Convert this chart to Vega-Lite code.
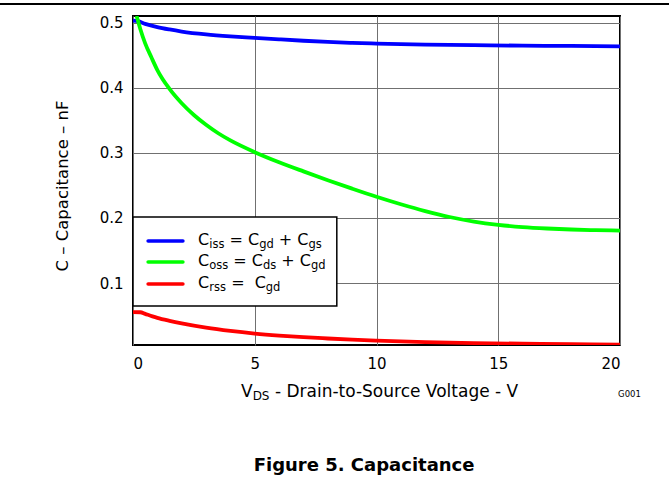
{
  "$schema": "https://vega.github.io/schema/vega-lite/v6.json",
  "width": 487,
  "height": 329,
  "autosize": {"type": "none"},
  "padding": {"left": 133, "top": 16, "right": 49, "bottom": 132},
  "background": "white",
  "config": {
    "view": {"stroke": "black", "strokeWidth": 2},
    "axis": {
      "grid": true,
      "gridColor": "#707070",
      "gridWidth": 1,
      "gridOpacity": 1,
      "domain": false,
      "ticks": false,
      "tickSize": 0,
      "labelFont": "DejaVu Sans",
      "labelFontSize": 15,
      "labelColor": "black",
      "title": null
    },
    "text": {"font": "DejaVu Sans", "fontSize": 16, "align": "left", "baseline": "alphabetic", "color": "black"}
  },
  "layer": [
    {
      "data": {
        "values": [
          {"vds": 0, "c": 0.503, "series": "Ciss"},
          {"vds": 0.2, "c": 0.502, "series": "Ciss"},
          {"vds": 0.5, "c": 0.498, "series": "Ciss"},
          {"vds": 1, "c": 0.493, "series": "Ciss"},
          {"vds": 1.5, "c": 0.4893, "series": "Ciss"},
          {"vds": 2, "c": 0.4862, "series": "Ciss"},
          {"vds": 3, "c": 0.4818, "series": "Ciss"},
          {"vds": 4, "c": 0.4788, "series": "Ciss"},
          {"vds": 5, "c": 0.4765, "series": "Ciss"},
          {"vds": 6, "c": 0.4742, "series": "Ciss"},
          {"vds": 7, "c": 0.472, "series": "Ciss"},
          {"vds": 8, "c": 0.4702, "series": "Ciss"},
          {"vds": 9, "c": 0.4688, "series": "Ciss"},
          {"vds": 10, "c": 0.4677, "series": "Ciss"},
          {"vds": 12, "c": 0.4662, "series": "Ciss"},
          {"vds": 14, "c": 0.4652, "series": "Ciss"},
          {"vds": 16, "c": 0.4645, "series": "Ciss"},
          {"vds": 18, "c": 0.464, "series": "Ciss"},
          {"vds": 20, "c": 0.4635, "series": "Ciss"},
          {"vds": 0.15, "c": 0.51, "series": "Coss"},
          {"vds": 0.3, "c": 0.49, "series": "Coss"},
          {"vds": 0.5, "c": 0.468, "series": "Coss"},
          {"vds": 0.75, "c": 0.447, "series": "Coss"},
          {"vds": 1, "c": 0.427, "series": "Coss"},
          {"vds": 1.5, "c": 0.398, "series": "Coss"},
          {"vds": 2, "c": 0.376, "series": "Coss"},
          {"vds": 2.5, "c": 0.358, "series": "Coss"},
          {"vds": 3, "c": 0.343, "series": "Coss"},
          {"vds": 3.5, "c": 0.33, "series": "Coss"},
          {"vds": 4, "c": 0.319, "series": "Coss"},
          {"vds": 5, "c": 0.301, "series": "Coss"},
          {"vds": 6, "c": 0.2855, "series": "Coss"},
          {"vds": 7, "c": 0.2715, "series": "Coss"},
          {"vds": 8, "c": 0.258, "series": "Coss"},
          {"vds": 9, "c": 0.245, "series": "Coss"},
          {"vds": 10, "c": 0.2325, "series": "Coss"},
          {"vds": 11, "c": 0.221, "series": "Coss"},
          {"vds": 12, "c": 0.2105, "series": "Coss"},
          {"vds": 13, "c": 0.2015, "series": "Coss"},
          {"vds": 14, "c": 0.1945, "series": "Coss"},
          {"vds": 15, "c": 0.1895, "series": "Coss"},
          {"vds": 16, "c": 0.186, "series": "Coss"},
          {"vds": 17, "c": 0.1838, "series": "Coss"},
          {"vds": 18, "c": 0.1823, "series": "Coss"},
          {"vds": 19, "c": 0.1813, "series": "Coss"},
          {"vds": 20, "c": 0.1806, "series": "Coss"},
          {"vds": 0, "c": 0.0555, "series": "Crss"},
          {"vds": 0.3, "c": 0.0553, "series": "Crss"},
          {"vds": 0.5, "c": 0.0528, "series": "Crss"},
          {"vds": 0.8, "c": 0.049, "series": "Crss"},
          {"vds": 1, "c": 0.0467, "series": "Crss"},
          {"vds": 1.5, "c": 0.0421, "series": "Crss"},
          {"vds": 2, "c": 0.0381, "series": "Crss"},
          {"vds": 3, "c": 0.0316, "series": "Crss"},
          {"vds": 4, "c": 0.0266, "series": "Crss"},
          {"vds": 5, "c": 0.0226, "series": "Crss"},
          {"vds": 6, "c": 0.0195, "series": "Crss"},
          {"vds": 7, "c": 0.017, "series": "Crss"},
          {"vds": 8, "c": 0.015, "series": "Crss"},
          {"vds": 9, "c": 0.0132, "series": "Crss"},
          {"vds": 10, "c": 0.0117, "series": "Crss"},
          {"vds": 12, "c": 0.0095, "series": "Crss"},
          {"vds": 14, "c": 0.008, "series": "Crss"},
          {"vds": 16, "c": 0.007, "series": "Crss"},
          {"vds": 18, "c": 0.0062, "series": "Crss"},
          {"vds": 20, "c": 0.0056, "series": "Crss"}
        ]
      },
      "mark": {"type": "line", "strokeWidth": 3.8, "interpolate": "monotone", "clip": true},
      "encoding": {
        "x": {
          "field": "vds", "type": "quantitative",
          "scale": {"domain": [0, 20], "nice": false, "zero": false},
          "axis": {"values": [0, 5, 10, 15, 20], "format": "d", "labelPadding": 11}
        },
        "y": {
          "field": "c", "type": "quantitative",
          "scale": {"domain": [0.005, 0.51], "nice": false, "zero": false},
          "axis": {"values": [0.1, 0.2, 0.3, 0.4, 0.5], "format": ".1f", "labelPadding": 10}
        },
        "color": {
          "field": "series", "type": "nominal",
          "scale": {"domain": ["Ciss", "Coss", "Crss"], "range": ["#0000ff", "#00ff00", "#ff0000"]},
          "legend": null
        },
        "detail": {"field": "series"}
      }
    },
    {
      "data": {"values": [{}]},
      "mark": {"type": "rect", "fill": "white", "stroke": "black", "strokeWidth": 1.5},
      "encoding": {
        "x": {"datum": 0, "type": "quantitative"}, "x2": {"datum": 8.37},
        "y": {"datum": 0.0648, "type": "quantitative"}, "y2": {"datum": 0.2015}
      }
    },
    {
      "data": {"values": [{}]},
      "mark": {"type": "rule", "color": "#0000ff", "strokeWidth": 3.5, "strokeCap": "round"},
      "encoding": {"x": {"datum": 0.62, "type": "quantitative"}, "x2": {"datum": 2.05}, "y": {"datum": 0.1646, "type": "quantitative"}}
    },
    {
      "data": {"values": [{}]},
      "mark": {"type": "rule", "color": "#00ff00", "strokeWidth": 3.5, "strokeCap": "round"},
      "encoding": {"x": {"datum": 0.62, "type": "quantitative"}, "x2": {"datum": 2.05}, "y": {"datum": 0.1324, "type": "quantitative"}}
    },
    {
      "data": {"values": [{}]},
      "mark": {"type": "rule", "color": "#ff0000", "strokeWidth": 3.5, "strokeCap": "round"},
      "encoding": {"x": {"datum": 0.62, "type": "quantitative"}, "x2": {"datum": 2.05}, "y": {"datum": 0.0986, "type": "quantitative"}}
    },
    {"data": {"values": [{}]}, "mark": {"type": "text"}, "encoding": {"x": {"datum": 2.67, "type": "quantitative"}, "y": {"datum": 0.1585, "type": "quantitative"}, "text": {"value": "C"}}},
    {"data": {"values": [{}]}, "mark": {"type": "text", "fontSize": 11.5}, "encoding": {"x": {"datum": 3.13, "type": "quantitative"}, "y": {"datum": 0.1539, "type": "quantitative"}, "text": {"value": "iss"}}},
    {"data": {"values": [{}]}, "mark": {"type": "text"}, "encoding": {"x": {"datum": 3.96, "type": "quantitative"}, "y": {"datum": 0.1585, "type": "quantitative"}, "text": {"value": "= C"}}},
    {"data": {"values": [{}]}, "mark": {"type": "text", "fontSize": 11.5}, "encoding": {"x": {"datum": 5.18, "type": "quantitative"}, "y": {"datum": 0.1539, "type": "quantitative"}, "text": {"value": "gd"}}},
    {"data": {"values": [{}]}, "mark": {"type": "text"}, "encoding": {"x": {"datum": 5.99, "type": "quantitative"}, "y": {"datum": 0.1585, "type": "quantitative"}, "text": {"value": "+ C"}}},
    {"data": {"values": [{}]}, "mark": {"type": "text", "fontSize": 11.5}, "encoding": {"x": {"datum": 7.21, "type": "quantitative"}, "y": {"datum": 0.1539, "type": "quantitative"}, "text": {"value": "gs"}}},
    {"data": {"values": [{}]}, "mark": {"type": "text"}, "encoding": {"x": {"datum": 2.67, "type": "quantitative"}, "y": {"datum": 0.1255, "type": "quantitative"}, "text": {"value": "C"}}},
    {"data": {"values": [{}]}, "mark": {"type": "text", "fontSize": 11.5}, "encoding": {"x": {"datum": 3.13, "type": "quantitative"}, "y": {"datum": 0.1209, "type": "quantitative"}, "text": {"value": "oss"}}},
    {"data": {"values": [{}]}, "mark": {"type": "text"}, "encoding": {"x": {"datum": 4.12, "type": "quantitative"}, "y": {"datum": 0.1255, "type": "quantitative"}, "text": {"value": "= C"}}},
    {"data": {"values": [{}]}, "mark": {"type": "text", "fontSize": 11.5}, "encoding": {"x": {"datum": 5.34, "type": "quantitative"}, "y": {"datum": 0.1209, "type": "quantitative"}, "text": {"value": "ds"}}},
    {"data": {"values": [{}]}, "mark": {"type": "text"}, "encoding": {"x": {"datum": 6.09, "type": "quantitative"}, "y": {"datum": 0.1255, "type": "quantitative"}, "text": {"value": "+ C"}}},
    {"data": {"values": [{}]}, "mark": {"type": "text", "fontSize": 11.5}, "encoding": {"x": {"datum": 7.31, "type": "quantitative"}, "y": {"datum": 0.1209, "type": "quantitative"}, "text": {"value": "gd"}}},
    {"data": {"values": [{}]}, "mark": {"type": "text"}, "encoding": {"x": {"datum": 2.67, "type": "quantitative"}, "y": {"datum": 0.0925, "type": "quantitative"}, "text": {"value": "C"}}},
    {"data": {"values": [{}]}, "mark": {"type": "text", "fontSize": 11.5}, "encoding": {"x": {"datum": 3.13, "type": "quantitative"}, "y": {"datum": 0.0879, "type": "quantitative"}, "text": {"value": "rss"}}},
    {"data": {"values": [{}]}, "mark": {"type": "text"}, "encoding": {"x": {"datum": 4.03, "type": "quantitative"}, "y": {"datum": 0.0925, "type": "quantitative"}, "text": {"value": "="}}},
    {"data": {"values": [{}]}, "mark": {"type": "text"}, "encoding": {"x": {"datum": 5.0, "type": "quantitative"}, "y": {"datum": 0.0925, "type": "quantitative"}, "text": {"value": "C"}}},
    {"data": {"values": [{}]}, "mark": {"type": "text", "fontSize": 11.5}, "encoding": {"x": {"datum": 5.45, "type": "quantitative"}, "y": {"datum": 0.0879, "type": "quantitative"}, "text": {"value": "gd"}}},
    {"data": {"values": [{}]}, "mark": {"type": "text", "fontSize": 17}, "encoding": {"x": {"datum": 4.435, "type": "quantitative"}, "y": {"datum": -0.0748, "type": "quantitative"}, "text": {"value": "V"}}},
    {"data": {"values": [{}]}, "mark": {"type": "text", "fontSize": 12}, "encoding": {"x": {"datum": 4.913, "type": "quantitative"}, "y": {"datum": -0.0794, "type": "quantitative"}, "text": {"value": "DS"}}},
    {"data": {"values": [{}]}, "mark": {"type": "text", "fontSize": 17}, "encoding": {"x": {"datum": 5.827, "type": "quantitative"}, "y": {"datum": -0.0748, "type": "quantitative"}, "text": {"value": "- Drain-to-Source Voltage - V"}}},
    {"data": {"values": [{}]}, "mark": {"type": "text", "fontSize": 8.5}, "encoding": {"x": {"datum": 19.92, "type": "quantitative"}, "y": {"datum": -0.0748, "type": "quantitative"}, "text": {"value": "G001"}}},
    {"data": {"values": [{}]}, "mark": {"type": "text", "fontSize": 16.5, "angle": 270, "align": "center", "baseline": "middle"}, "encoding": {"x": {"datum": -2.875, "type": "quantitative"}, "y": {"datum": 0.249, "type": "quantitative"}, "text": {"value": "C – Capacitance – nF"}}},
    {"data": {"values": [{}]}, "mark": {"type": "text", "fontSize": 18, "fontWeight": "bold", "align": "center"}, "encoding": {"x": {"datum": 9.49, "type": "quantitative"}, "y": {"datum": -0.1884, "type": "quantitative"}, "text": {"value": "Figure 5. Capacitance"}}},
    {
      "data": {"values": [{}]},
      "mark": {"type": "rule", "color": "black", "strokeWidth": 2},
      "encoding": {"x": {"datum": -5.47, "type": "quantitative"}, "x2": {"datum": 22.02}, "y": {"datum": 0.5284, "type": "quantitative"}}
    }
  ]
}
